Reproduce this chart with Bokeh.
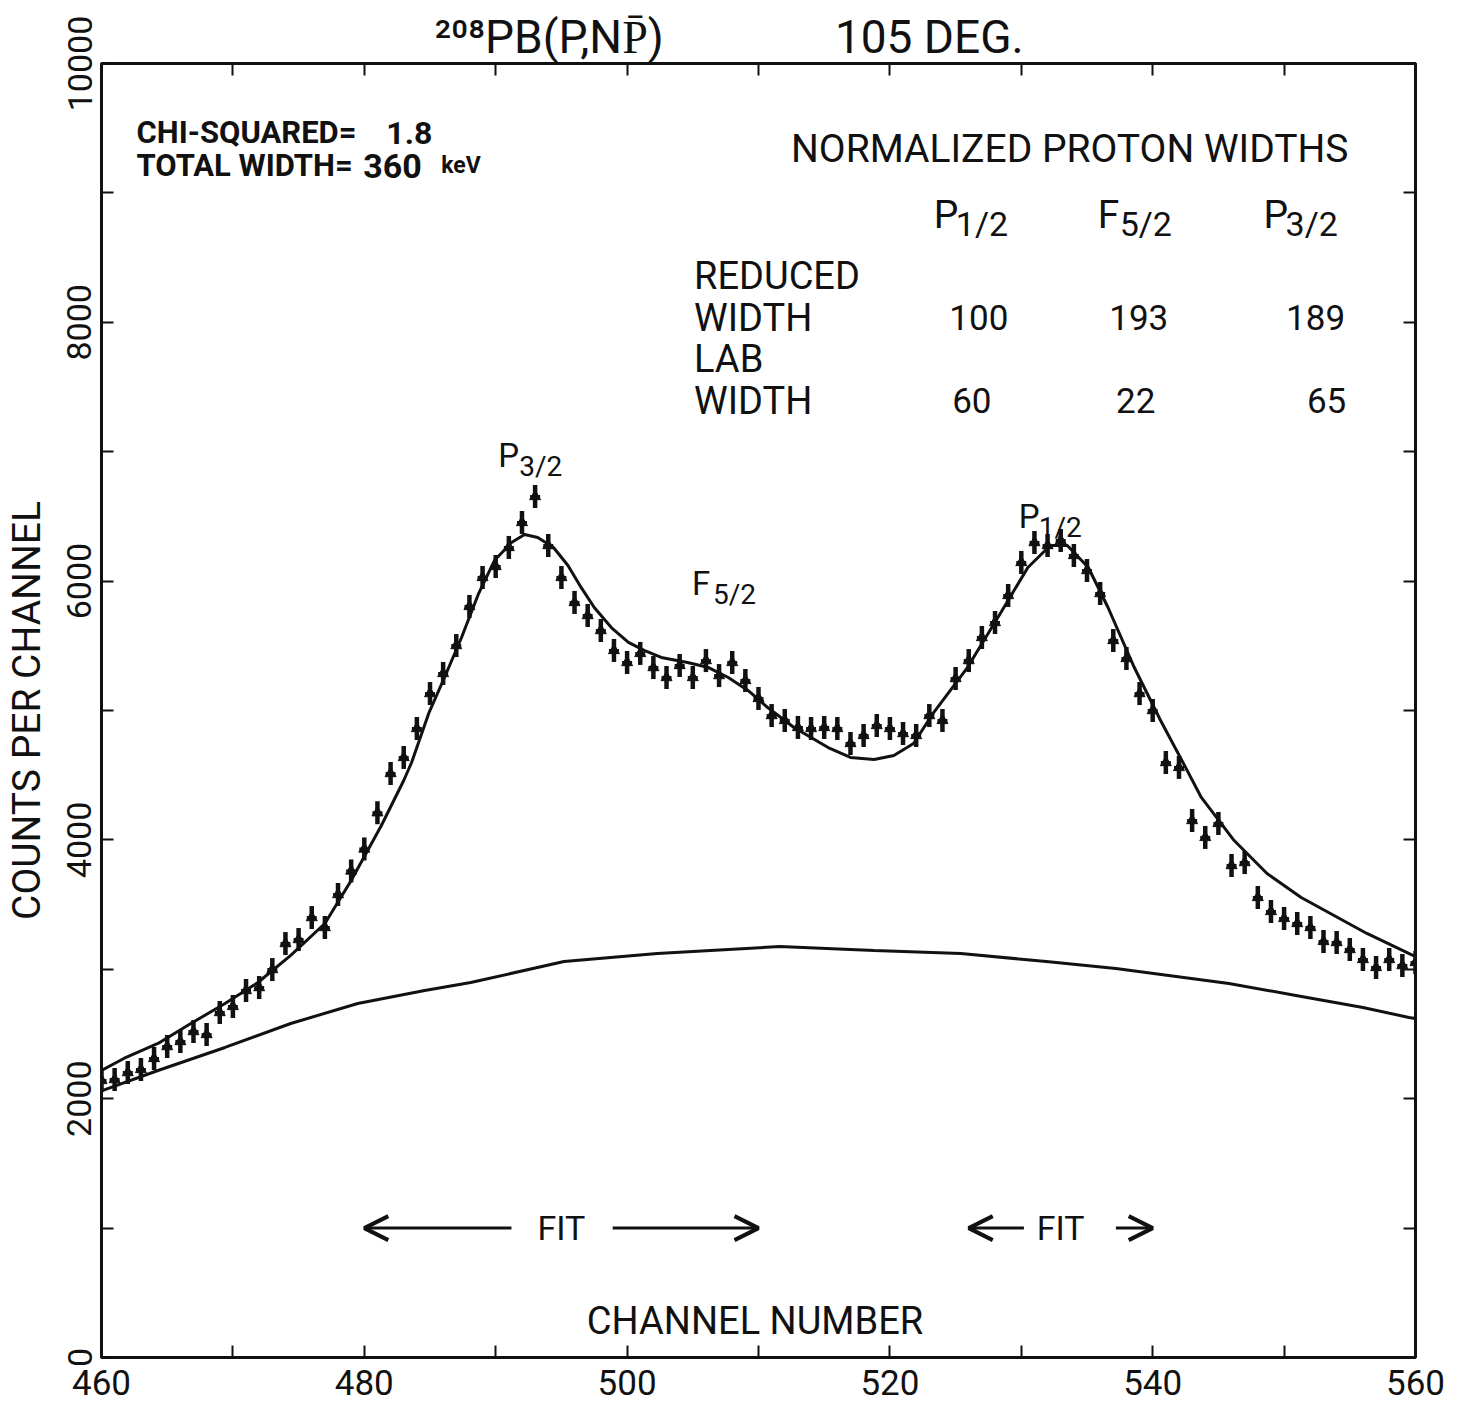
import numpy as np
from bokeh.plotting import figure
from bokeh.models import Label, Arrow, OpenHead, LinearAxis, FixedTicker, Range1d
from bokeh.embed import file_html
from bokeh.resources import INLINE

# ---------------- data ----------------
channels = list(range(460, 561))
counts = [2141, 2148, 2202, 2226, 2311, 2403, 2442, 2519, 2496, 2666,
          2713, 2836, 2859, 2998, 3199, 3230, 3400, 3323, 3578, 3760,
          3930, 4210, 4513, 4637, 4861, 5131, 5286, 5502, 5804, 6028,
          6113, 6260, 6453, 6654, 6275, 6028, 5835, 5734, 5618, 5464,
          5371, 5441, 5332, 5255, 5348, 5255, 5386, 5270, 5371, 5232,
          5093, 4961, 4923, 4869, 4861, 4869, 4861, 4745, 4807, 4884,
          4861, 4822, 4807, 4961, 4923, 5247, 5386, 5564, 5680, 5889,
          6144, 6298, 6275, 6314, 6198, 6082, 5904, 5541, 5402, 5131,
          5000, 4598, 4560, 4150, 4019, 4127, 3802, 3825, 3555, 3447,
          3393, 3354, 3323, 3215, 3207, 3153, 3076, 3014, 3076, 3029,
          3053]

fit_channel = [460.0, 461.7, 464.3, 466.8, 469.4, 471.9, 474.4, 477.0, 479.0, 481.3,
               483.0, 483.6, 484.9, 486.1, 487.4, 488.7, 489.9, 491.2, 492.2, 493.2,
               494.4, 495.5, 496.5, 497.5, 498.8, 500.1, 501.3, 502.6, 504.6, 506.2,
               507.7, 509.2, 510.7, 512.7, 515.3, 517.0, 518.8, 520.3, 521.8, 523.3,
               525.9, 528.4, 530.5, 532.2, 533.5, 535.1, 536.6, 538.6, 540.6, 542.4,
               543.7, 546.2, 548.7, 551.3, 553.8, 556.3, 559.8, 560.0]
fit_counts = [2218, 2311, 2427, 2581, 2736, 2898, 3107, 3354, 3686, 4111,
              4459, 4598, 4977, 5255, 5564, 5904, 6159, 6298, 6360, 6337,
              6260, 6121, 5951, 5796, 5641, 5526, 5464, 5410, 5371, 5332,
              5255, 5155, 5023, 4869, 4714, 4637, 4621, 4652, 4745, 4980,
              5332, 5750, 6105, 6275, 6275, 6105, 5796, 5332, 4923, 4580,
              4328, 3995, 3740, 3555, 3416, 3277, 3107, 3100]

bg_channel = [460.0, 464.3, 469.4, 474.4, 479.5, 484.6, 488.1, 495.2, 502.3, 511.6,
              518.8, 525.4, 531.9, 537.2, 545.8, 550.9, 556.0, 559.5, 560.0]
bg_counts = [2060, 2218, 2396, 2581, 2736, 2836, 2898, 3060, 3122, 3176,
             3145, 3122, 3060, 3006, 2890, 2798, 2705, 2628, 2620]

x_major_ticks = [460, 480, 500, 520, 540, 560]
x_minor_ticks = [470, 490, 510, 530, 550]
y_major_ticks = [0, 2000, 4000, 6000, 8000, 10000]
y_minor_ticks = [1000, 3000, 5000, 7000, 9000]

states = [("P", "1/2"), ("F", "5/2"), ("P", "3/2")]
reduced_width = [100, 193, 189]
lab_width = [60, 22, 65]
fit_windows = [(480, 510), (526, 540)]
chi_squared = "1.8"
total_width_kev = "360"

FONT = "Roboto"
BLACK = "#111111"
NB = "\u00a0"

# ---------------- figure ----------------
p = figure(width=1467, height=1412, x_range=Range1d(460, 560), y_range=Range1d(0, 10000),
           output_backend="svg", toolbar_location=None,
           x_axis_location=None, y_axis_location=None,
           min_border_left=100, min_border_right=52, min_border_top=63, min_border_bottom=55)
p.grid.visible = False
p.outline_line_color = BLACK
p.outline_line_width = 3
p.background_fill_color = "white"
p.border_fill_color = "white"

# title (superscript mass number as real text)
p.title.text = "\u00b2\u2070\u2078PB(P,NP\u0304)" + NB * 15 + "105 DEG."
p.title.text_font = FONT
p.title.text_font_size = "46px"
p.title.text_font_style = "normal"
p.title.text_color = BLACK
p.title.align = "left"
p.title.offset = 333
p.title.standoff = 0


def make_axis(ticks, minor, labels=True):
    ax = LinearAxis(ticker=FixedTicker(ticks=ticks, minor_ticks=minor))
    ax.axis_line_width = 3
    ax.axis_line_color = BLACK
    ax.major_tick_in = 12
    ax.major_tick_out = 0
    ax.minor_tick_in = 12
    ax.minor_tick_out = 0
    ax.major_tick_line_width = 2
    ax.minor_tick_line_width = 2
    ax.major_tick_line_color = BLACK
    ax.minor_tick_line_color = BLACK
    ax.major_label_text_font = FONT
    ax.major_label_text_color = BLACK
    if not labels:
        ax.major_label_text_font_size = "0px"
        ax.major_label_text_color = None
        ax.major_label_standoff = 0
    return ax


xb = make_axis(x_major_ticks, x_minor_ticks)
xb.major_label_text_font_size = "35px"
xb.major_label_standoff = 12
p.add_layout(xb, "below")

xt = make_axis(x_major_ticks, x_minor_ticks, labels=False)
p.add_layout(xt, "above")

yl = make_axis(y_major_ticks, y_minor_ticks)
yl.major_label_text_font_size = "34px"
yl.major_label_orientation = "vertical"
yl.major_label_standoff = 10
yl.axis_label = "COUNTS PER CHANNEL"
yl.axis_label_text_font = FONT
yl.axis_label_text_font_size = "39px"
yl.axis_label_text_font_style = "normal"
yl.axis_label_text_color = BLACK
yl.axis_label_standoff = 15
p.add_layout(yl, "left")

yr = make_axis(y_major_ticks, y_minor_ticks, labels=False)
p.add_layout(yr, "right")

# ---------------- curves ----------------
p.line(bg_channel, bg_counts, line_color=BLACK, line_width=3)
p.line(fit_channel, fit_counts, line_color=BLACK, line_width=3)

# data points: small arrow-like error-bar glyphs
p.scatter(channels, counts, marker="dash", angle=np.pi / 2, size=23,
          line_width=4.5, line_color=BLACK)
p.scatter(channels, counts, marker="triangle", size=11,
          fill_color=BLACK, line_color=BLACK)
p.scatter(channels, counts, marker="dash", size=10, line_width=3, line_color=BLACK)


# ---------------- texts ----------------
def at(px, py):
    return 460 + (px - 100) / 13.15, (1357 - py) / 0.1294


def label(text, px, py, size, align="left", style="normal", baseline="alphabetic"):
    x, y = at(px, py)
    p.add_layout(Label(x=x, y=y, text=text, text_font=FONT, text_font_size=f"{size}px",
                       text_align=align, text_baseline=baseline,
                       text_font_style=style, text_color=BLACK))


# fit info
label("CHI-SQUARED=", 135, 132, 31, style="bold")
label(chi_squared, 385, 132, 32, style="bold")
label("TOTAL WIDTH=", 135, 165, 31, style="bold")
label(total_width_kev, 362, 165, 34, style="bold")
label("keV", 440, 165, 23, style="bold")

# table
label("NORMALIZED PROTON WIDTHS", 790, 148, 39)
head_x = [933, 1097, 1263]
for (lead, sub), hx in zip(states, head_x):
    label(lead, hx, 214, 39)
    label(sub, hx + 22, 223, 34)
label("REDUCED", 693, 275, 38)
label("WIDTH", 693, 317, 38)
label("LAB", 693, 358, 38)
label("WIDTH", 693, 400, 38)
for v, cx in zip(reduced_width, [978, 1138, 1315]):
    label(str(v), cx, 317, 35, align="center")
for v, cx in zip(lab_width, [971, 1135, 1326]):
    label(str(v), cx, 400, 35, align="center")

# peak labels
label("P", 497, 455, 33)
label("3/2", 518, 466, 28)
label("F", 691, 583, 33)
label("5/2", 712, 594, 28)
label("P", 1018, 516, 33)
label("1/2", 1038, 527, 28)

# fit windows
arrow_y = 1000
(a0, a1), (b0, b1) = fit_windows
for start, end in [(491.2, a0), (498.9, a1), (530.2, b0), (537.2, b1)]:
    p.add_layout(Arrow(x_start=start, y_start=arrow_y, x_end=end, y_end=arrow_y,
                       line_width=3, line_color=BLACK,
                       end=OpenHead(size=24, line_width=4, line_color=BLACK)))
for lo, hi in fit_windows:
    p.add_layout(Label(x=(lo + hi) / 2, y=arrow_y, text="FIT", text_font=FONT,
                       text_font_size="34px", text_align="center",
                       text_baseline="middle", text_color=BLACK))

label("CHANNEL NUMBER", 754, 1320, 38, align="center")

open("out.html", "w").write(file_html(p, INLINE))
